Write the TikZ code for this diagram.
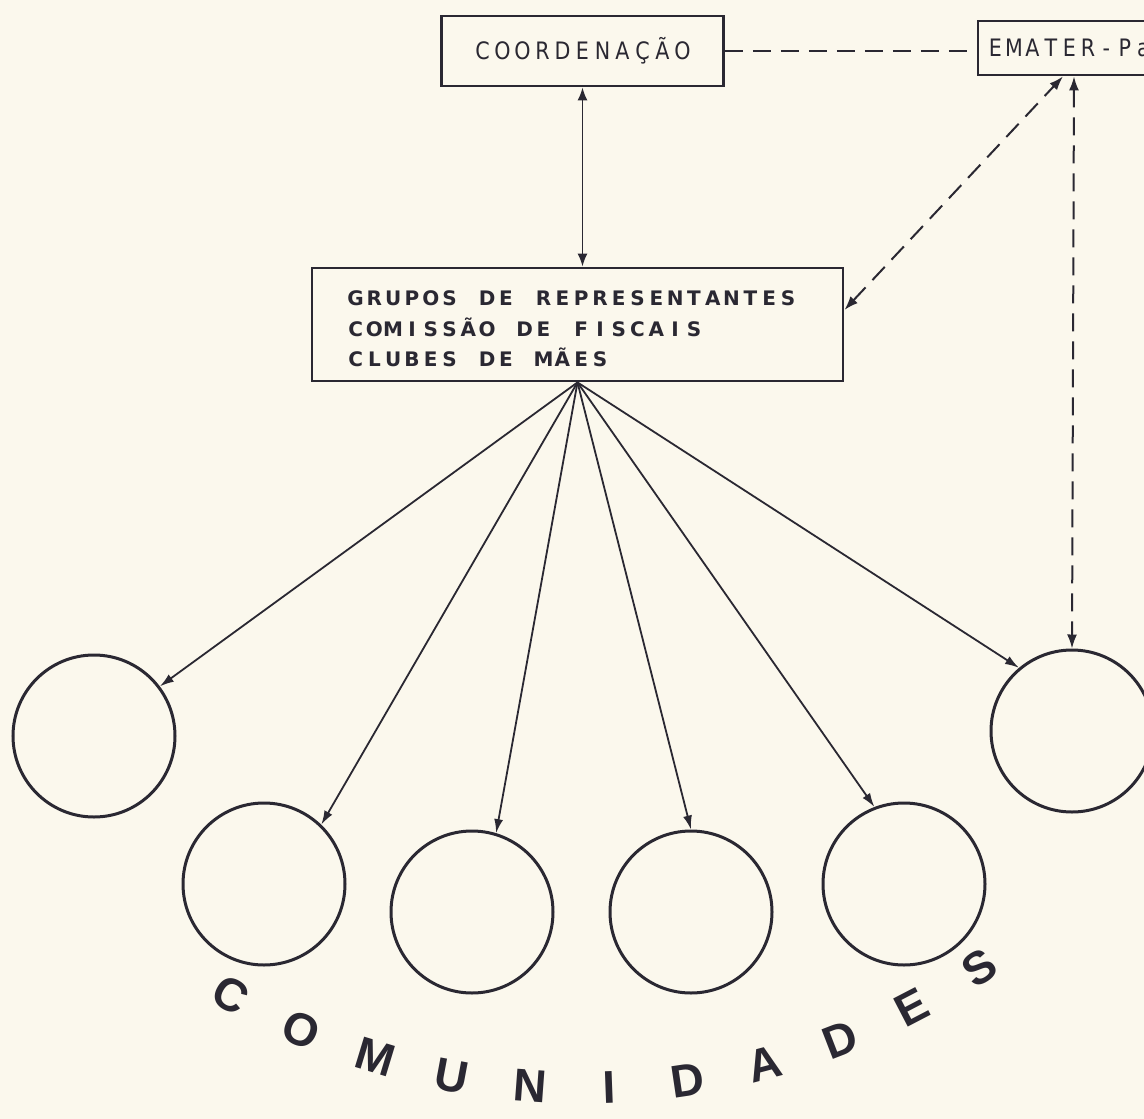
\documentclass[tikz,border=0pt]{standalone}
\usepackage{fontspec}
\setmainfont{DejaVu Sans}
\newfontfamily\lettrfont{DejaVu Sans}
\newfontfamily\narrowfont{DejaVu Sans}[FakeStretch=0.86]
\newfontfamily\comfont{Liberation Sans}
\usetikzlibrary{arrows.meta,calc}
\definecolor{paper}{RGB}{251,248,237}
\definecolor{ink}{RGB}{42,40,50}
\ExplSyntaxOn
\NewDocumentCommand \pitched { m m } { \tl_map_inline:nn {#2} { \makebox[#1][c]{##1} } }
\ExplSyntaxOff
\begin{document}
\begin{tikzpicture}[x=1pt,y=-1pt,
  boxline/.style={draw=ink, line width=2.8pt, inner sep=0pt},
  comm/.style={circle, draw=ink, line width=3pt, minimum size=162pt, inner sep=0pt},
  lab/.style={text=ink, inner sep=0pt, font=\narrowfont\fontsize{24}{24}\selectfont},
  grp/.style={text=ink, inner sep=0pt, anchor=base west, font=\lettrfont\bfseries\fontsize{20}{20}\selectfont},
  comletter/.style={text=ink, inner sep=0pt, font=\comfont\bfseries\fontsize{46}{46}\selectfont},
  solidarrow/.style={draw=ink, line width=1.8pt, -{Latex[length=14pt,width=9pt]}},
  bothsolid/.style={draw=ink, line width=1.8pt, {Latex[length=13pt,width=10pt]}-{Latex[length=13pt,width=10pt]}},
  dashline/.style={draw=ink, line width=2pt, dash pattern=on 18pt off 10pt},
  dasharrow/.style={dashline, {Latex[length=14pt,width=10pt]}-{Latex[length=14pt,width=10pt]}}
]
\useasboundingbox (0,0) rectangle (1144,1119);
\fill[paper] (0,0) rectangle (1144,1119);
\clip (0,0) rectangle (1144,1119);

% boxes
\node[boxline, minimum width=282pt, minimum height=70pt, lab] (coord) at (582.5,51) {\pitched{20pt}{COORDENAÇÃO}};
\node[boxline, minimum width=192pt, minimum height=54pt] (emater) at (1074,48) {};
\node[lab, anchor=west] (ematertxt) at (986,48) {\pitched{18.5pt}{EMATER-Pa}};
\node[boxline, minimum width=531pt, minimum height=113pt] (grupos) at (577.5,324.5) {};
\node[grp] (g1) at (346,305.5) {\pitched{18.8pt}{GRUPOS~DE~REPRESENTANTES}};
\node[grp] (g2) at (346,336) {\pitched{18.8pt}{COMISSÃO~DE~FISCAIS}};
\node[grp] (g3) at (346,366.5) {\pitched{18.8pt}{CLUBES~DE~MÃES}};

% communities
\node[comm] (c1) at (94,736) {};
\node[comm] (c2) at (264,884) {};
\node[comm] (c3) at (472,912) {};
\node[comm] (c4) at (691,912) {};
\node[comm] (c5) at (904,884) {};
\node[comm] (c6) at (1072,731) {};

% connectors
\draw[bothsolid] (coord.south) -- (coord.south |- grupos.north);
\draw[dashline] (coord.east) -- (coord.east -| emater.west);
\draw[dasharrow] ([yshift=14.5pt]grupos.east) -- ([xshift=-11pt]emater.south);
\draw[dasharrow] (emater.south) -- (c6.north);
\draw[solidarrow] (grupos.south) -- (c1.37);
\draw[solidarrow] (grupos.south) -- (c2.46);
\draw[solidarrow] (grupos.south) -- (c3.73);
\draw[solidarrow] (grupos.south) -- (c4.90);
\draw[solidarrow] (grupos.south) -- (c5.111);
\draw[solidarrow] (grupos.south) -- (c6.130);

% COMUNIDADES along an arc
\coordinate (arc) at (583,375);
\foreach \L [count=\i from 0] in {C,O,M,U,N,I,D,A,D,E,S}{
  \pgfmathsetmacro\ang{-119.6+\i*6.34}
  \node[comletter, rotate=\ang+90] (cl\i) at ($(arc)+(\ang:713pt)$) {\L};
}
\end{tikzpicture}
\end{document}
